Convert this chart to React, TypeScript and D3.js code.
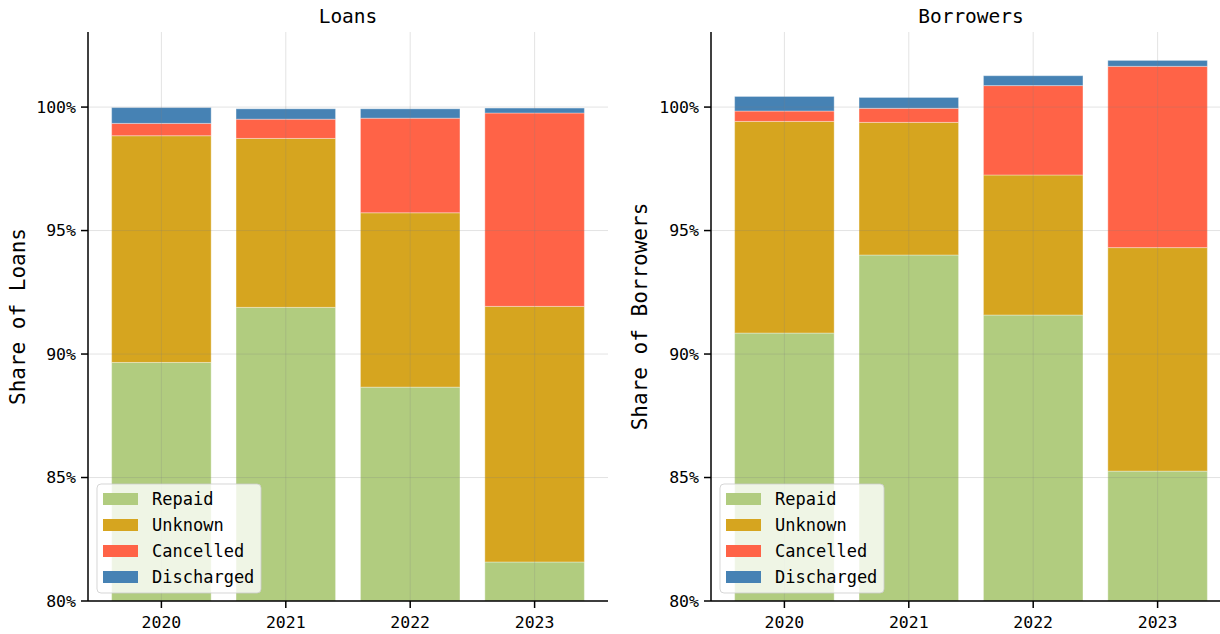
import React from "react";
import * as d3 from "d3";

const years = ["2020", "2021", "2022", "2023"];
const seriesNames = ["Repaid", "Unknown", "Cancelled", "Discharged"];
const seriesColors = ["#b1cc7f", "#d6a51f", "#ff6347", "#4682b4"];

const loansRepaid = [89.66, 91.89, 88.66, 81.58];
const loansUnknown = [9.18, 6.84, 7.06, 10.35];
const loansCancelled = [0.5, 0.78, 3.83, 7.83];
const loansDischarged = [0.64, 0.42, 0.38, 0.2];

const borrowersRepaid = [90.85, 94.01, 91.58, 85.26];
const borrowersUnknown = [8.57, 5.37, 5.67, 9.05];
const borrowersCancelled = [0.42, 0.57, 3.62, 7.34];
const borrowersDischarged = [0.59, 0.44, 0.4, 0.24];

const yTicks = [80, 85, 90, 95, 100];

const FONT = "'DejaVu Sans Mono', monospace";

type PanelProps = {
  left: number;
  title: string;
  ylabel: string;
  ylabelX: number;
  series: number[][];
};

const TOP = 32;
const BOTTOM = 601;
const WIDTH = 520;

function Panel({ left, title, ylabel, ylabelX, series }: PanelProps) {
  const x = d3.scaleLinear().domain([-0.59, 3.59]).range([left, left + WIDTH]);
  const y = d3.scaleLinear().domain([80, 103.04]).range([BOTTOM, TOP]);
  const barW = x(0.8) - x(0);

  const stacks = years.map((_, i) => {
    let acc = 0;
    return series.map((s, k) => {
      const y0 = acc;
      acc += s[i];
      return { k, y0, y1: acc };
    });
  });

  const legendX = left + 9;
  const legendY = 484;

  return (
    <g>
      <defs>
        <clipPath id={"clip" + left}>
          <rect x={left} y={TOP} width={WIDTH} height={BOTTOM - TOP} />
        </clipPath>
      </defs>
      <g clipPath={`url(#clip${left})`}>
        {stacks.map((st, i) =>
          st.map((seg) => {
            const y0 = Math.max(seg.y0, 80);
            if (seg.y1 <= 80) return null;
            return (
              <rect
                key={i + "-" + seg.k}
                x={x(i) - barW / 2}
                y={y(seg.y1)}
                width={barW}
                height={y(y0) - y(seg.y1)}
                fill={seriesColors[seg.k]}
                stroke="#ffffff"
                strokeOpacity={0.35}
                strokeWidth={1}
              />
            );
          })
        )}
      </g>
      {/* grid on top */}
      {yTicks.map((t) => (
        <line
          key={"gy" + t}
          x1={left}
          x2={left + WIDTH}
          y1={y(t)}
          y2={y(t)}
          stroke="#808080"
          strokeOpacity={0.22}
          strokeWidth={1}
        />
      ))}
      {years.map((_, i) => (
        <line
          key={"gx" + i}
          x1={x(i)}
          x2={x(i)}
          y1={TOP}
          y2={BOTTOM}
          stroke="#808080"
          strokeOpacity={0.22}
          strokeWidth={1}
        />
      ))}
      {/* spines */}
      <line x1={left} x2={left} y1={TOP} y2={BOTTOM} stroke="#000" strokeWidth={1.5} />
      <line x1={left} x2={left + WIDTH} y1={BOTTOM} y2={BOTTOM} stroke="#000" strokeWidth={1.5} />
      {/* y ticks */}
      {yTicks.map((t) => (
        <g key={"yt" + t}>
          <line x1={left - 7} x2={left} y1={y(t)} y2={y(t)} stroke="#000" strokeWidth={1.5} />
          <text
            x={left - 12}
            y={y(t)}
            textAnchor="end"
            dominantBaseline="central"
            fontFamily={FONT}
            fontSize={16.5}
            fill="#000"
          >
            {t + "%"}
          </text>
        </g>
      ))}
      {/* x ticks */}
      {years.map((yr, i) => (
        <g key={"xt" + yr}>
          <line x1={x(i)} x2={x(i)} y1={BOTTOM} y2={BOTTOM + 7} stroke="#000" strokeWidth={1.5} />
          <text
            x={x(i)}
            y={BOTTOM + 27}
            textAnchor="middle"
            fontFamily={FONT}
            fontSize={16.5}
            fill="#000"
          >
            {yr}
          </text>
        </g>
      ))}
      <text
        x={left + WIDTH / 2}
        y={23}
        textAnchor="middle"
        fontFamily={FONT}
        fontSize={19.5}
        fill="#000"
      >
        {title}
      </text>
      <text
        transform={`translate(${ylabelX},${(TOP + BOTTOM) / 2}) rotate(-90)`}
        textAnchor="middle"
        dominantBaseline="central"
        fontFamily={FONT}
        fontSize={21}
        fill="#000"
      >
        {ylabel}
      </text>
      {/* legend */}
      <rect
        x={legendX}
        y={legendY}
        width={164}
        height={109}
        rx={4}
        fill="#ffffff"
        fillOpacity={0.8}
        stroke="#cccccc"
        strokeOpacity={0.8}
      />
      {seriesNames.map((n, k) => (
        <g key={"lg" + n}>
          <rect
            x={legendX + 6}
            y={legendY + 9 + k * 26}
            width={35}
            height={12}
            fill={seriesColors[k]}
          />
          <text
            x={legendX + 55}
            y={legendY + 15 + k * 26}
            dominantBaseline="central"
            fontFamily={FONT}
            fontSize={17}
            fill="#000"
          >
            {n}
          </text>
        </g>
      ))}
    </g>
  );
}

export default function App() {
  return (
    <svg
      width={1220}
      height={634}
      style={{ position: "absolute", left: 0, top: 0, background: "#fff" }}
    >
      <rect width={1220} height={634} fill="#fff" />
      <Panel
        left={88}
        title="Loans"
        ylabel="Share of Loans"
        ylabelX={18}
        series={[loansRepaid, loansUnknown, loansCancelled, loansDischarged]}
      />
      <Panel
        left={711}
        title="Borrowers"
        ylabel="Share of Borrowers"
        ylabelX={640}
        series={[borrowersRepaid, borrowersUnknown, borrowersCancelled, borrowersDischarged]}
      />
    </svg>
  );
}
